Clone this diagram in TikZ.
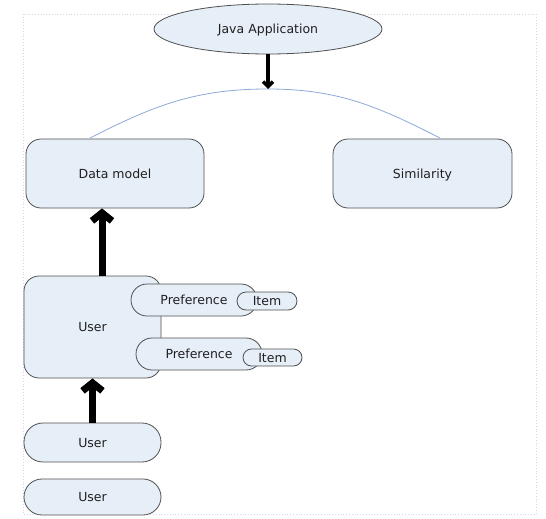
\documentclass[tikz,border=0pt]{standalone}
\usepackage{fontspec}
\setmainfont{DejaVu Sans}
\usetikzlibrary{arrows.meta,shapes.geometric}
\definecolor{boxfill}{HTML}{E6EEF8}
\definecolor{boxdraw}{HTML}{505050}
\definecolor{arccol}{HTML}{8FA8D8}
\definecolor{framecol}{HTML}{D8D4E8}
\definecolor{txt}{HTML}{202020}
\tikzset{
  base/.style={draw=boxdraw, fill=boxfill, line width=0.8pt, text=txt, inner sep=0pt,
    font=\fontsize{12.5}{14}\selectfont, text height=9.5pt, text depth=0pt},
  rbox/.style={base, rectangle, rounded corners=15pt},
  pill/.style={base, rectangle, rounded corners=#1},
  oval/.style={base, ellipse},
  thickarrow/.style={line width=7pt, -{Straight Barb[length=8pt,width=20pt]}},
  thinarrow/.style={line width=3.5pt, -{Straight Barb[length=5pt,width=10pt]}},
}
\begin{document}
\begin{tikzpicture}[x=1pt,y=-1pt]
\useasboundingbox (0,0) rectangle (546,519);
\draw[framecol, dotted, line width=0.8pt] (23,14) rectangle (536,514);

\node[oval, minimum width=228pt, minimum height=50pt] (java) at (268,29) {Java Application};
\node[rbox, minimum width=178pt, minimum height=69pt] (data) at (115,173.5) {Data model};
\node[rbox, minimum width=179pt, minimum height=69pt] (sim) at (422.5,173.5) {Similarity};

\node[rbox, minimum width=137pt, minimum height=102pt] (user1) at (92.5,327) {User};
\node[pill=16pt, minimum width=126pt, minimum height=32pt] (pref1) at (194,300) {Preference};
\node[pill=9pt, minimum width=60pt, minimum height=18pt] (item1) at (267,301) {Item};
\node[pill=16pt, minimum width=126pt, minimum height=32pt] (pref2) at (199,354) {Preference};
\node[pill=8.5pt, minimum width=59pt, minimum height=17pt] (item2) at (272.5,357.5) {Item};

\node[pill=19pt, minimum width=137pt, minimum height=39pt] (user2) at (92.5,442.5) {User};
\node[pill=18pt, minimum width=137pt, minimum height=36pt] (user3) at (92.5,497) {User};

\coordinate (arcL) at (90,138);
\coordinate (arcR) at (440,138);
\coordinate (peak) at (268,89);
\draw[arccol, line width=0.8pt] (arcL) to[out=27, in=180] (peak) to[out=0, in=153] (arcR);

\draw[thinarrow] (java.south) -- (peak);
\draw[thickarrow] ([xshift=9.5pt]user1.north) -- ([xshift=-13pt]data.south);
\draw[thickarrow] (user2.north) -- (user1.south);
\end{tikzpicture}
\end{document}
